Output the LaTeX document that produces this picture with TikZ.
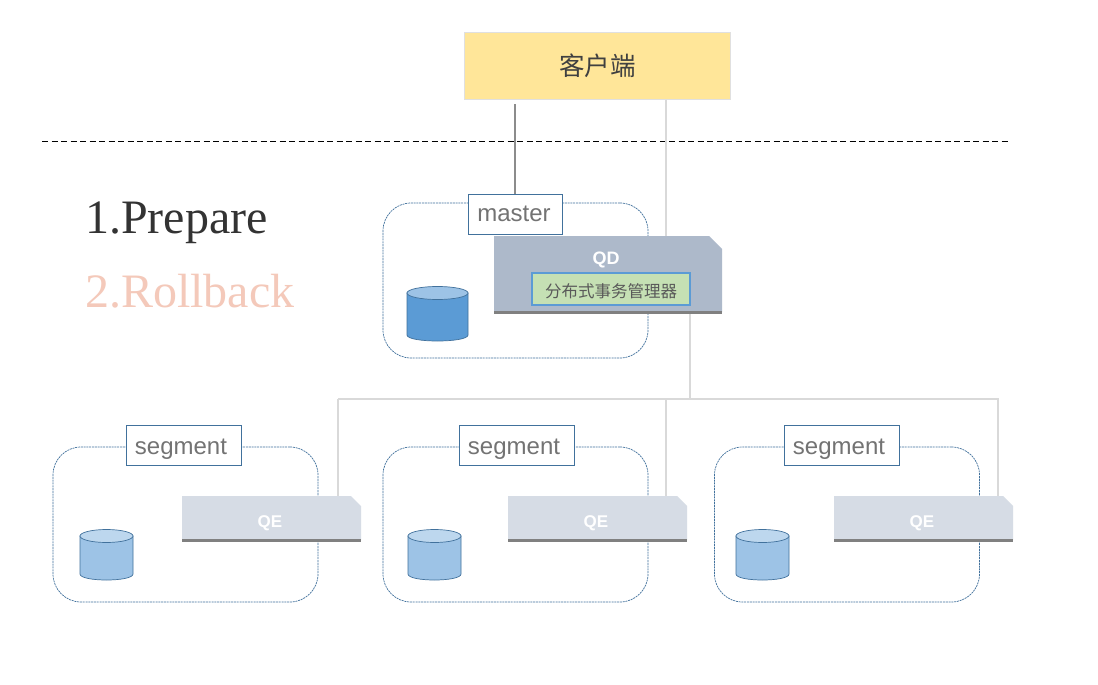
\documentclass[tikz,border=0pt]{standalone}
\usepackage{fontspec}
\setmainfont{Liberation Serif}
\setsansfont{Liberation Sans}
\newfontfamily\cjk{Noto Sans CJK SC}
\usetikzlibrary{shapes.misc}
\definecolor{clientfill}{HTML}{FFE699}
\definecolor{boxblue}{HTML}{41719C}
\definecolor{qdfill}{HTML}{ADB9CA}
\definecolor{qefill}{HTML}{D6DCE5}
\definecolor{tmfill}{HTML}{C5E0B4}
\definecolor{tmline}{HTML}{5B9BD5}
\definecolor{cyldark}{HTML}{5B9BD5}
\definecolor{cyllight}{HTML}{9DC3E6}
\definecolor{cyltop}{HTML}{BDD7EE}
\definecolor{rollback}{HTML}{F4C9BA}
\tikzstyle{host} = [rectangle, draw=boxblue, dash pattern=on 2pt off 0.8pt, line width=0.7pt, rounded corners=28pt, minimum width=265pt, minimum height=155pt, inner sep=0pt]
\tikzstyle{hostlabel} = [rectangle, draw=boxblue, fill=white, line width=0.8pt, text=black!55, font=\sffamily\fontsize{24}{28}\selectfont, minimum height=40pt, inner sep=0pt]
\tikzstyle{proc} = [chamfered rectangle, chamfered rectangle corners=north east, draw=none, text=white, font=\sffamily\bfseries, inner sep=0pt, outer sep=0pt]
\tikzstyle{qeproc} = [proc, fill=qefill, minimum width=179pt, minimum height=44pt, chamfered rectangle xsep=5pt, chamfered rectangle ysep=5pt, font=\sffamily\bfseries\fontsize{17}{20}\selectfont]
\tikzstyle{shade} = [draw=black!50, line width=3pt]
\tikzstyle{bus} = [draw=black!15, line width=2.5pt]
% centre x, top y, half width, height, body colour, end colour
\newcommand{\drawdisk}[6]{
        \filldraw[fill=#5, draw=boxblue, line width=0.7pt] (#1-#3, #2) -- (#1-#3, #2+#4-6) .. controls (#1-#3, #2+#4+2) and (#1+#3, #2+#4+2) .. (#1+#3, #2+#4-6) -- (#1+#3, #2) -- cycle;
        \filldraw[fill=#6, draw=boxblue, line width=0.7pt] (#1, #2) ellipse [x radius=#3, y radius=6.5];
}

\begin{document}
\begin{tikzpicture}[x=1pt, y=-1pt]
        \useasboundingbox[fill=white] (0, 0) rectangle (1098, 685);

        \node[rectangle, draw=black!12, fill=clientfill, minimum width=266pt, minimum height=67pt, font=\cjk\fontsize{25.5}{30}\selectfont, text=black!75] at (597.5, 66) (Client) {客户端};

        \coordinate (sep_left) at (42, 141);
        \coordinate (sep_right) at (1008, 141);
        \draw[dash pattern=on 6pt off 3.5pt, line width=1pt] (sep_left) -- (sep_right);

        \node[anchor=base west, inner sep=0pt, font=\fontsize{48}{52}\selectfont, text=black!80] at (85, 233) (step_prepare) {1.Prepare};
        \node[anchor=base west, inner sep=0pt, font=\fontsize{48}{52}\selectfont, text=rollback] at (85, 307) (step_rollback) {2.Rollback};

        \node[host] at (515.5, 280.5) (master_box) {};
        \node[host] at (185.5, 524.5) (segment_box_a) {};
        \node[host] at (515.5, 524.5) (segment_box_b) {};
        \node[host] at (847, 524.5) (segment_box_c) {};

        \node[hostlabel, minimum width=94pt] at (515, 214) (master_label) {\kern-2pt master};
        \node[hostlabel, minimum width=115pt] at (183.5, 445) (segment_label_a) {\rule{0pt}{23pt}segment\kern5pt\relax};
        \node[hostlabel, minimum width=115pt] at (516.5, 445) (segment_label_b) {\rule{0pt}{23pt}segment\kern5pt\relax};
        \node[hostlabel, minimum width=115pt] at (841.5, 445) (segment_label_c) {\rule{0pt}{23pt}segment\kern5pt\relax};

        \coordinate (bus_a) at (338, 399);
        \coordinate (bus_b) at (666, 399);
        \coordinate (bus_mid) at (690, 399);
        \coordinate (bus_c) at (998, 399);

        \draw[line width=2pt, draw=black!45, shorten >=4pt] (master_label.north) -- (master_label.north |- Client.south);
        \draw[bus] (bus_b |- Client.south) -- (bus_b |- master_box.north) -- ++(0, 33);
        \draw[bus] (bus_mid) -- ++(0, -86);
        \draw[bus] (bus_a) -- ++(0, 97) (bus_a) -- (bus_c) -- ++(0, 97);
        \draw[bus] (bus_b) -- ++(0, 97);

        \node[proc, fill=qdfill, minimum width=228pt, minimum height=76pt, chamfered rectangle xsep=6.5pt, chamfered rectangle ysep=6.5pt, font=\sffamily\bfseries\fontsize{18}{20}\selectfont] at (608, 274) (QD) {\raisebox{31pt}{\hspace{-4pt}QD}};
        \node[qeproc] at (271.5, 518) (QE_a) {\rule{0pt}{22pt}\kern-3pt QE};
        \node[qeproc] at (597.5, 518) (QE_b) {\rule{0pt}{22pt}\kern-3pt QE};
        \node[qeproc] at (923.5, 518) (QE_c) {\rule{0pt}{22pt}\kern-3pt QE};

        \draw[shade] (QD.south west) -- (QD.south east);
        \draw[shade] (QE_a.south west) -- (QE_a.south east);
        \draw[shade] (QE_b.south west) -- (QE_b.south east);
        \draw[shade] (QE_c.south west) -- (QE_c.south east);

        \node[rectangle, draw=tmline, fill=tmfill, line width=1.2pt, minimum width=158pt, minimum height=32pt, inner sep=0pt, text=black!65, font=\cjk\fontsize{16.5}{20}\selectfont] at (611, 289) (tx_manager) {\rule{0pt}{19pt}分布式事务管理器};

        \drawdisk{437.5}{293}{30.5}{48}{cyldark}{cyllight}
        \drawdisk{106.5}{536}{26.5}{44}{cyllight}{cyltop}
        \drawdisk{434.5}{536}{26.5}{44}{cyllight}{cyltop}
        \drawdisk{762.5}{536}{26.5}{44}{cyllight}{cyltop}
    \end{tikzpicture}
\end{document}
